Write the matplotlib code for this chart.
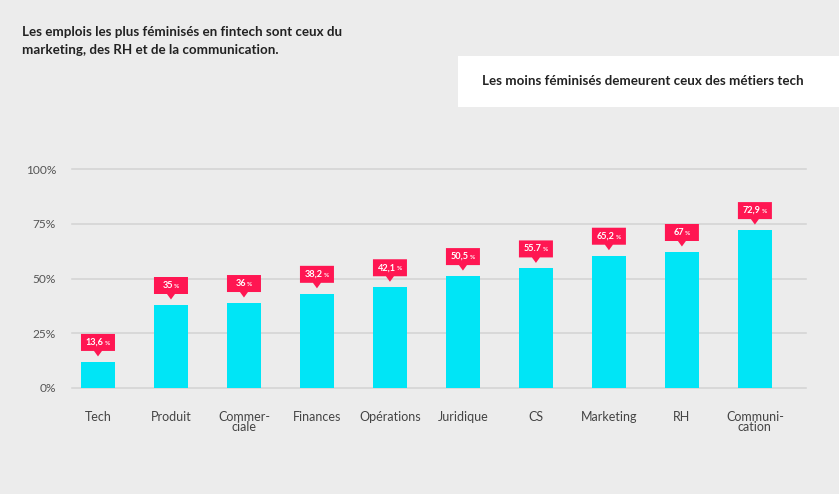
import matplotlib
matplotlib.use("Agg")
import matplotlib.pyplot as plt
import matplotlib.transforms as mtransforms
from matplotlib.patches import Polygon, Rectangle
from matplotlib.offsetbox import TextArea, HPacker, AnnotationBbox

plt.rcParams['font.family'] = ['Lato', 'DejaVu Sans']

categories = ["Tech", "Produit", "Commer-\nciale", "Finances", "Opérations",
              "Juridique", "CS", "Marketing", "RH", "Communi-\ncation"]
bar_heights = [11.9, 37.9, 38.8, 43.0, 46.0, 51.1, 54.6, 60.4, 62.1, 72.1]
value_labels = ["13,6", "35", "36", "38,2", "42,1", "50,5", "55.7", "65,2", "67", "72,9"]
y_ticks = [0, 25, 50, 75, 100]
y_ticklabels = ["0%", "25%", "50%", "75%", "100%"]

title_text = "Les emplois les plus féminisés en fintech sont ceux du\nmarketing, des RH et de la communication."
box_text = "Les moins féminisés demeurent ceux des métiers tech"

BG = "#ececec"
BAR = "#00e5f6"
PINK = "#ff1652"
GRID = "#d2d2d2"

W, H = 839, 494
fig = plt.figure(figsize=(W / 100, H / 100), dpi=100, facecolor=BG)

ax = fig.add_axes([72 / W, 1 - 388 / H, (806 - 72) / W, (388 - 169) / H])
ax.set_facecolor(BG)
x = list(range(len(categories)))
ax.set_xlim(-0.356, 9.7)
ax.set_ylim(0, 100)

for t in y_ticks:
    ax.axhline(t, color=GRID, lw=1.1, zorder=0, clip_on=False)

ax.bar(x, bar_heights, width=0.47, color=BAR, zorder=2)

for s in ax.spines.values():
    s.set_visible(False)

ax.set_yticks(y_ticks)
ax.set_yticklabels(y_ticklabels)
ax.set_xticks(x)
ax.set_xticklabels(categories, linespacing=0.85)
ax.tick_params(axis='y', length=0, pad=11.5, labelsize=8.6, labelcolor="#555555")
ax.tick_params(axis='x', length=0, pad=16.5, labelsize=9, labelcolor="#444444")

# callouts
for i, (h, lab) in enumerate(zip(bar_heights, value_labels)):
    trans = mtransforms.IdentityTransform() + mtransforms.ScaledTranslation(i, h, ax.transData)
    pts = [(-17, 11), (-4, 11), (0, 5.5), (4, 11), (17, 11), (17, 28), (-17, 28)]
    ax.add_patch(Polygon(pts, closed=True, transform=trans, facecolor=PINK,
                         edgecolor='none', zorder=3, clip_on=False))
    num = TextArea(lab, textprops=dict(color='white', fontsize=6.6, fontweight='bold'))
    pct = TextArea("%", textprops=dict(color='white', fontsize=4.6, fontweight='bold'))
    pack = HPacker(children=[num, pct], align='baseline', pad=0, sep=0.8)
    ab = AnnotationBbox(pack, (i, h), xybox=(0, 19.5), xycoords='data',
                        boxcoords='offset pixels', box_alignment=(0.5, 0.5),
                        frameon=False, pad=0, zorder=4, annotation_clip=False)
    ax.add_artist(ab)

# title
fig.text(22 / W, 1 - 26 / H, title_text, ha='left', va='top', fontsize=9.6,
         fontweight='bold', color="#222222", linespacing=1.65)

# white box
fig.patches.append(Rectangle((458 / W, 1 - 107 / H), (W - 458) / W, 51 / H,
                             transform=fig.transFigure, facecolor='white',
                             edgecolor='none', zorder=0))
fig.text(482 / W, 1 - 81 / H, box_text, ha='left', va='center', fontsize=9.6,
         fontweight='bold', color="#222222")

fig.savefig("out.png", dpi=100, facecolor=BG)
